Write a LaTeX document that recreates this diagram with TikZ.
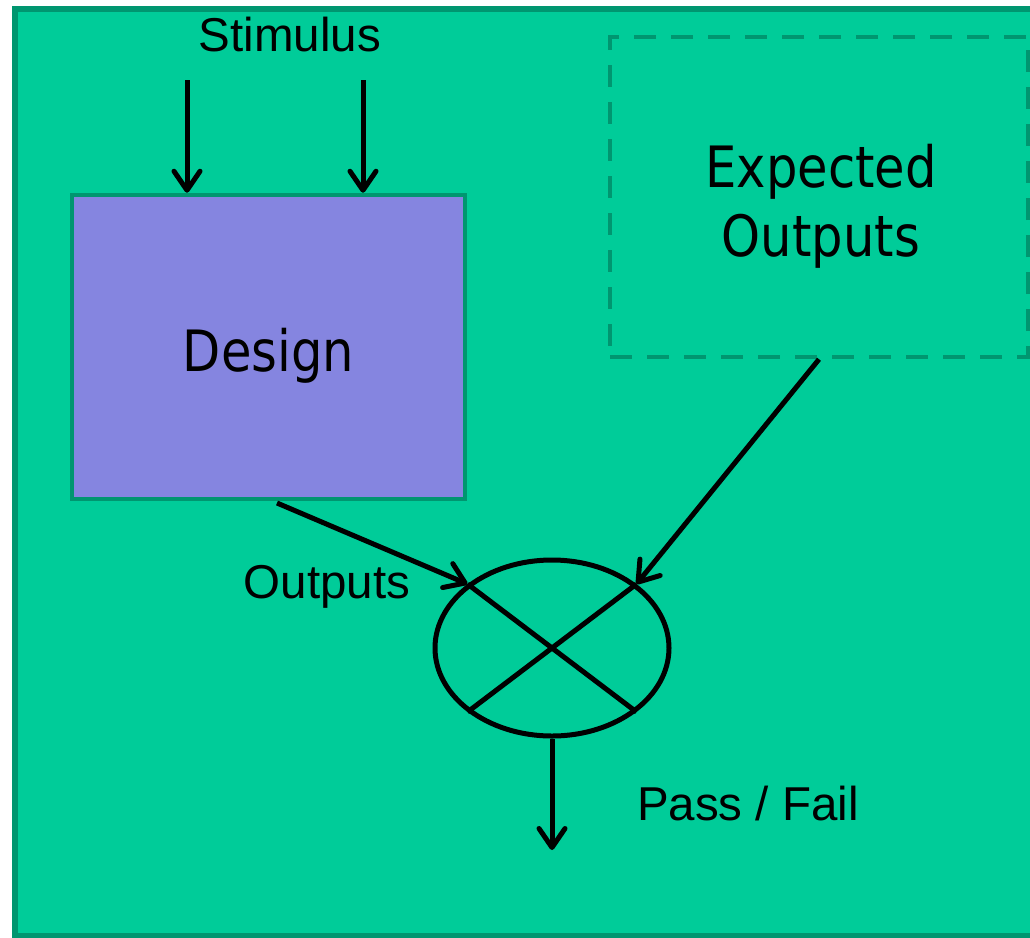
\documentclass[tikz,border=0pt]{standalone}
\usepackage{fontspec}
\setmainfont{Liberation Sans}
\newfontfamily\blockfont[FakeStretch=0.87]{DejaVu Sans}
\usetikzlibrary{shapes.geometric,arrows.meta}
\definecolor{panelgreen}{RGB}{0,204,153}
\definecolor{edgegreen}{RGB}{0,150,112}
\definecolor{designblue}{RGB}{133,133,224}
\tikzset{
  panel/.style={fill=panelgreen, draw=edgegreen, line width=6pt},
  designbox/.style={rectangle, fill=designblue, draw=edgegreen, line width=4.5pt,
    inner sep=0pt, minimum width=393pt, minimum height=304pt},
  expectbox/.style={rectangle, draw=edgegreen, line width=4.5pt,
    dash pattern=on 22pt off 15pt, inner sep=0pt,
    minimum width=418pt, minimum height=320pt},
  blocktext/.style={inner sep=0pt, align=center,
    font=\blockfont\fontsize{57}{69}\selectfont},
  comparator/.style={ellipse, draw=black, line width=5pt, inner sep=0pt,
    minimum width=234pt, minimum height=176pt},
  label/.style={font=\fontsize{47.5}{56}\selectfont, inner sep=0pt},
  flow/.style={draw=black, line width=5pt,
    -{Straight Barb[length=19pt, width=26pt, round]}},
  bar/.style={draw=black, line width=5pt}
}
\begin{document}
\begin{tikzpicture}[x=1pt, y=-1pt]
  \useasboundingbox (0,0) rectangle (1030,937);
  \clip (0,0) rectangle (1030,937);
  % background panel
  \draw[panel] (15,9) rectangle (1040,936);

  % blocks
  \node[designbox] (design) at (268.5,347) {};
  \node[blocktext, anchor=base] (designlbl) at (268.5,371) {Design};
  \node[expectbox] (expect) at (819,197) {};
  \node[blocktext] (expectlbl) at (821,206) {Expected\\Outputs};
  \node[comparator] (cmp) at (552,648) {};
  \draw[bar] (cmp.north west) -- (cmp.south east);
  \draw[bar] (cmp.north east) -- (cmp.south west);

  % stimulus inputs
  \node[label, anchor=base] (stim) at (290,51) {Stimulus};
  \coordinate (s1) at (187,80);
  \coordinate (s2) at (363,80);
  \draw[flow] (s1) -- (s1 |- design.north);
  \draw[flow] (s2) -- (s2 |- design.north);

  % outputs into the comparator
  \coordinate (dout) at (277,503);
  \draw[flow] (dout) -- (cmp.north west);
  \node[label, anchor=base] (outlbl) at (327,598) {Outputs};
  \draw[flow] (expect.south) -- (cmp.north east);

  % verdict
  \coordinate (verdict) at (552,850);
  \draw[flow] (cmp.south) -- (verdict);
  \node[label, anchor=base] (pf) at (748,820) {Pass / Fail};
\end{tikzpicture}
\end{document}
